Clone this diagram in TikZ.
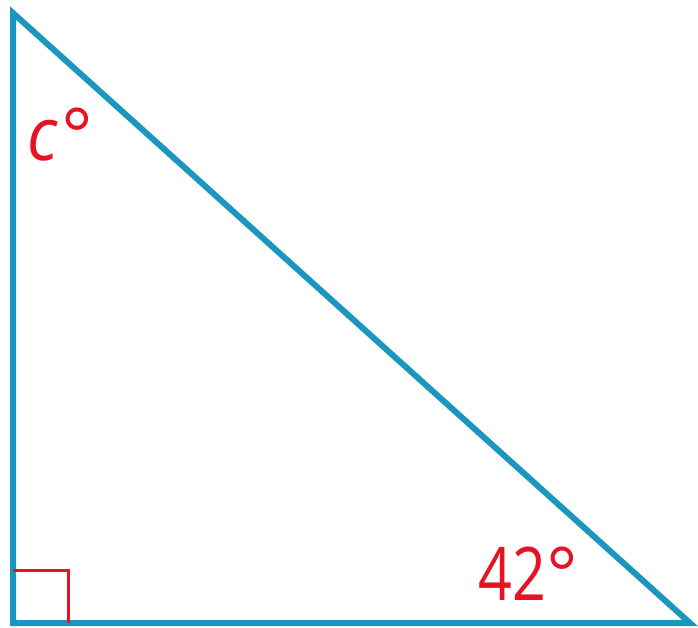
\documentclass[tikz,border=0pt]{standalone}
\usepackage{fontspec}
\setmainfont{Open Sans}
\usepackage{graphicx}
\definecolor{triblue}{RGB}{27,150,190}
\definecolor{labred}{RGB}{230,20,35}
\begin{document}
\begin{tikzpicture}[x=1pt,y=-1pt,
  side/.style={draw=triblue,line width=6pt,line join=miter},
  rightmark/.style={draw=labred,line width=3pt},
  anglabel/.style={text=labred,font=\fontsize{74}{74}\selectfont,inner sep=0pt}]
\useasboundingbox (0,0) rectangle (698,627);
\coordinate (A) at (13,13);
\coordinate (B) at (13,623);
\coordinate (C) at (690,623);
\draw[side] (A) -- (B) -- (C) -- cycle;
\coordinate (r1) at (13,570);
\coordinate (r2) at (68,570);
\coordinate (r3) at (68,623);
\draw[rightmark] (r1) -- (r2) -- (r3);
\node[anglabel,anchor=base west] (lc) at (27,160) {\scalebox{0.9}[1]{\itshape c}\kern4pt\raisebox{-0.02em}{\upshape °}};
\node[anglabel,anchor=base west] (l42) at (478,600) {\scalebox{0.8}[1]{42}\kern1pt°};
\end{tikzpicture}
\end{document}
